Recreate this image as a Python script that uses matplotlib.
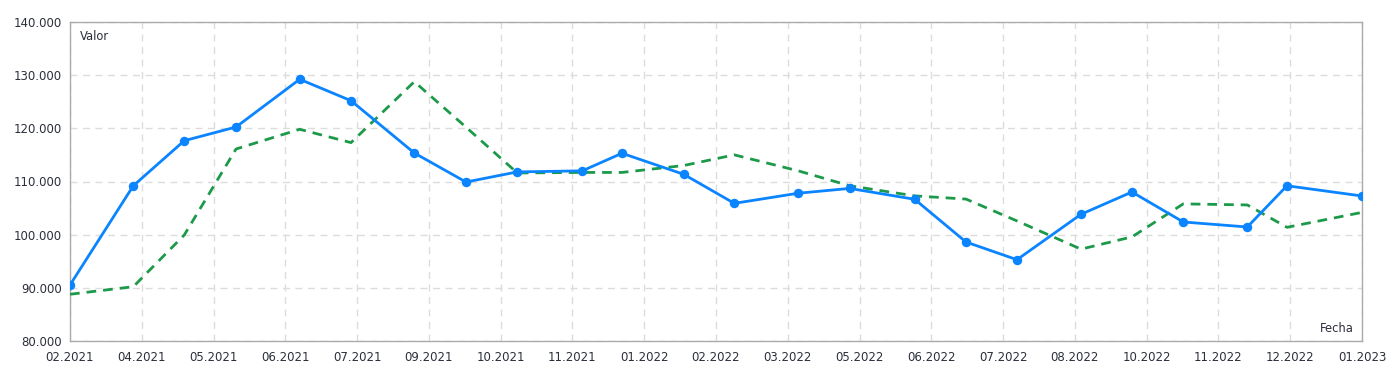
import numpy as np
import matplotlib.pyplot as plt
from matplotlib.ticker import FuncFormatter
plt.switch_backend('agg')

# x positions in tick-interval units (0 = 02.2021, 18 = 01.2023)
blueX = [0, 0.882, 1.592, 2.313, 3.200, 3.915, 4.797, 5.517, 6.232, 7.137, 7.690, 8.550,
         9.255, 10.146, 10.862, 11.768, 12.483, 13.193, 14.085, 14.795, 15.510, 16.402, 16.955, 18.0]
blueY = [90570, 109200, 117660, 120230, 129190, 125170, 115350, 109900, 111800, 112000, 115300, 111350,
         105900, 107800, 108700, 106660, 98640, 95320, 103840, 108030, 102400, 101460, 109200, 107280]
greenY = [88830, 90250, 99960, 116100, 119800, 117300, 128740, 120200, 111600, 111700, 111700, 113000,
          115000, 112000, 109200, 107300, 106700, 102600, 97300, 99600, 105800, 105600, 101400, 104200]

tickLabels = ["02.2021", "04.2021", "05.2021", "06.2021", "07.2021", "09.2021", "10.2021", "11.2021",
              "01.2022", "02.2022", "03.2022", "05.2022", "06.2022", "07.2022", "08.2022", "10.2022",
              "11.2022", "12.2022", "01.2023"]
yTicks = [80000, 90000, 100000, 110000, 120000, 130000, 140000]

textColor = "#2b2f3a"
fig = plt.figure(figsize=(13.96, 3.76), dpi=100)
ax = fig.add_axes([70 / 1396, 1 - 341.3 / 376, (1362 - 70) / 1396, (341.3 - 21.7) / 376])

ax.plot(blueX, greenY, color="#1c9a4a", linewidth=2.0, linestyle=(0, (3.5, 2.5)), zorder=3)
ax.plot(blueX, blueY, color="#0a84ff", linewidth=2.0, marker="o", markersize=5.8, zorder=4)

ax.set_xlim(0, 18)
ax.set_ylim(80000, 140000)
ax.set_xticks(range(len(tickLabels)))
ax.set_xticklabels(tickLabels)
ax.set_yticks(yTicks)
ax.yaxis.set_major_formatter(FuncFormatter(lambda v, p: "{:,.0f}".format(v).replace(",", ".")))

ax.grid(True, color="#dcdcdc", linestyle=(0, (5, 4)), linewidth=1.0)
ax.set_axisbelow(True)
for s in ax.spines.values():
    s.set_color("#ababab")
    s.set_linewidth(1.0)
ax.tick_params(length=0, labelsize=8.5, labelcolor=textColor)
ax.tick_params(axis="x", pad=7)
ax.tick_params(axis="y", pad=6)

ax.text(0.008, 0.975, "Valor", transform=ax.transAxes, fontsize=8.3, color=textColor, va="top", ha="left")
ax.text(0.994, 0.02, "Fecha", transform=ax.transAxes, fontsize=8.3, color=textColor, va="bottom", ha="right")

plt.savefig("out.png", dpi=100)
